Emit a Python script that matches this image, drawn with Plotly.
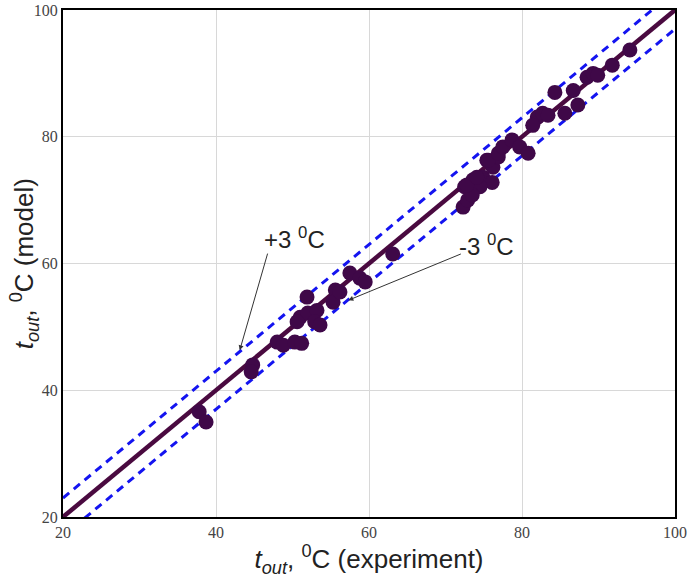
import plotly.graph_objects as go

t_exp = [37.8, 38.7, 44.8, 44.6, 48.0, 48.8, 50.3, 51.2,
         51.0, 52.0, 53.2, 52.9, 53.6, 51.9, 50.6,
         55.6, 55.3, 56.2, 57.5, 58.8, 59.5, 63.1,
         72.3, 72.9, 72.5, 73.6, 74.9, 75.4, 76.2, 76.9, 76.1, 74.5, 73.5,
         72.8, 75.6, 76.9, 74.1, 77.5,
         78.7, 79.7, 80.8, 82.0, 82.7, 81.4, 83.4,
         84.3, 86.7, 85.6, 87.3, 88.5, 89.3, 89.9, 91.8, 94.1]
t_mod = [36.6, 35.0, 44.0, 42.9, 47.6, 47.1, 47.6, 47.4,
         51.5, 52.2, 52.6, 50.8, 50.3, 54.7, 50.8,
         55.8, 53.9, 55.5, 58.5, 57.7, 57.1, 61.5,
         68.9, 70.0, 72.1, 73.2, 73.6, 76.3, 75.2, 76.8, 72.8, 72.1, 70.8,
         72.4, 76.3, 77.4, 73.6, 78.4,
         79.5, 78.4, 77.4, 83.1, 83.7, 81.8, 83.4,
         87.0, 87.3, 83.7, 85.0, 89.4, 90.0, 89.7, 91.3, 93.7]

line_x = [20, 100]
line_y = [20, 100]
upper_y = [23, 103]
lower_y = [17, 97]

tick_vals = [20, 40, 60, 80, 100]
tick_text = ["20", "40", "60", "80", "100"]

col_pt = "#3f0848"
col_blue = "#1414f0"
title_font = dict(family="Liberation Sans", size=26, color="#222")

fig = go.Figure()
fig.add_trace(go.Scatter(x=line_x, y=upper_y, mode="lines",
                         line=dict(color=col_blue, width=3, dash="8px,6px")))
fig.add_trace(go.Scatter(x=line_x, y=lower_y, mode="lines",
                         line=dict(color=col_blue, width=3, dash="8px,6px")))
fig.add_trace(go.Scatter(x=line_x, y=line_y, mode="lines",
                         line=dict(color="#4a0a40", width=4.5)))
fig.add_trace(go.Scatter(x=t_exp, y=t_mod, mode="markers",
                         marker=dict(color=col_pt, size=15, line=dict(width=0))))

# annotation texts
fig.add_annotation(x=50.3, y=64.0, xref="x", yref="y", text="+3 <sup>0</sup>C",
                   showarrow=False, font=dict(family="Liberation Sans", size=24, color="#222"))
fig.add_annotation(x=75.3, y=62.9, xref="x", yref="y", text="-3 <sup>0</sup>C",
                   showarrow=False, font=dict(family="Liberation Sans", size=24, color="#222"))
# arrows
fig.add_annotation(x=43.1, y=46.3, ax=46.8, ay=61.8, xref="x", yref="y",
                   axref="x", ayref="y", text="", showarrow=True,
                   arrowhead=2, arrowsize=1, arrowwidth=1, arrowcolor="#333")
fig.add_annotation(x=57.3, y=54.2, ax=72.2, ay=61.6, xref="x", yref="y",
                   axref="x", ayref="y", text="", showarrow=True,
                   arrowhead=2, arrowsize=1, arrowwidth=1, arrowcolor="#333")

# y-axis title as rotated annotation (precise placement)
fig.add_annotation(x=-0.064, y=0.5, xref="paper", yref="paper",
                   xanchor="center", yanchor="middle", textangle=-90,
                   text="<i>t</i><sub><i>out</i></sub>, <sup>0</sup>C (model)",
                   showarrow=False, font=title_font)

axis_common = dict(
    range=[20, 100], tickvals=tick_vals, ticktext=tick_text,
    showgrid=True, gridcolor="#d8d8d8", gridwidth=1,
    showline=True, linecolor="black", linewidth=2, mirror=True,
    zeroline=False, ticks="", automargin=False, ticklabeloverflow="allow",
    tickfont=dict(family="Liberation Serif", size=16, color="#444"),
)

fig.update_layout(
    width=692, height=580,
    margin=dict(l=63, r=17, t=10, b=63),
    plot_bgcolor="white", paper_bgcolor="white",
    showlegend=False, hovermode=False,
    xaxis=dict(**axis_common,
               title=dict(text="<i>t</i><sub><i>out</i></sub>, <sup>0</sup>C (experiment)",
                          font=title_font, standoff=2)),
    yaxis=dict(**axis_common),
)

fig.write_html("out.html", config={"displayModeBar": False},
               post_script="document.body.style.margin='0';")
